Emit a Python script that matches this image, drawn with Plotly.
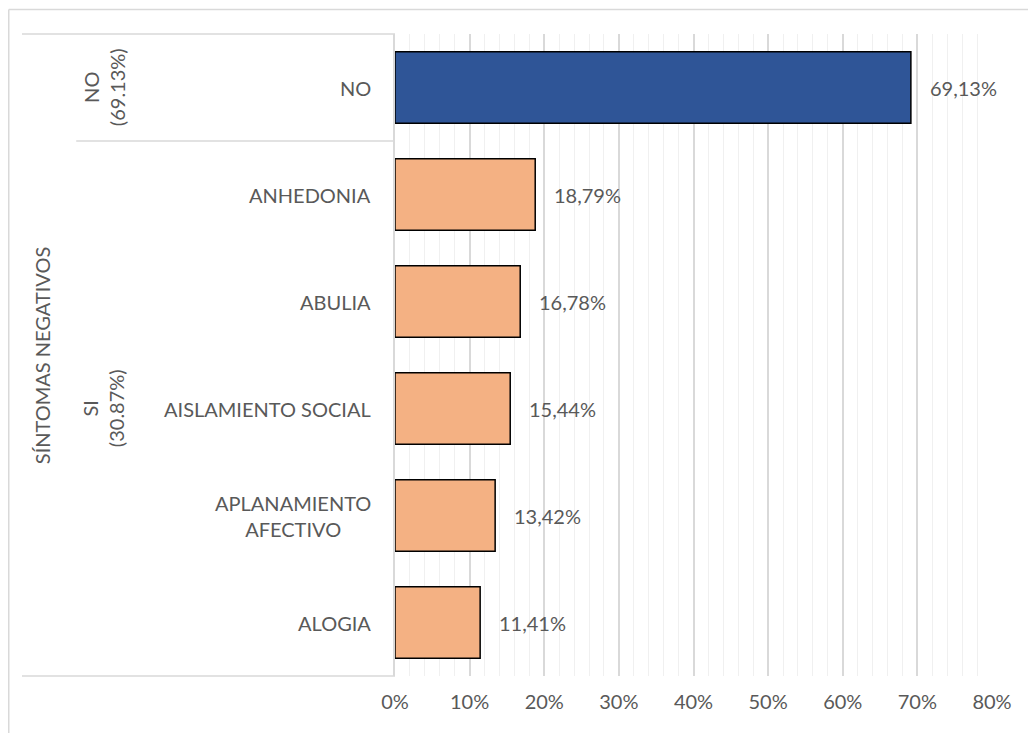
import plotly.graph_objects as go

categorias = ["NO", "ANHEDONIA", "ABULIA", "AISLAMIENTO SOCIAL", "APLANAMIENTO<br>AFECTIVO", "ALOGIA"]
valores = [0.6913, 0.1879, 0.1678, 0.1544, 0.1342, 0.1141]
grupos = ["NO<br>(69.13%)", "SI<br>(30.87%)"]
colores = ["#2F5597", "#F4B183", "#F4B183", "#F4B183", "#F4B183", "#F4B183"]

gris = "#595959"
fuente = "Lato"
tam = 20

fig = go.Figure()
fig.add_trace(go.Bar(
    x=valores,
    y=categorias,
    orientation="h",
    marker=dict(color=colores, line=dict(color="black", width=1.5)),
    width=0.67,
    hoverinfo="x+y",
))

# etiquetas de datos con coma decimal
for cat, v in zip(categorias, valores):
    fig.add_annotation(
        x=v, y=cat, xref="x", yref="y",
        text=f"{v*100:.2f}%".replace(".", ","),
        showarrow=False, xanchor="left", xshift=17,
        font=dict(size=tam, color=gris, family=fuente),
    )
    # etiqueta de categoria
    fig.add_annotation(
        x=0, y=cat, xref="paper", yref="y",
        text=cat, showarrow=False, xanchor="right", xshift=-22,
        align="center", font=dict(size=tam, color=gris, family=fuente),
    )

# etiquetas de grupo (rotadas)
for texto, yy in zip(grupos, [11/12, 5/12]):
    fig.add_annotation(x=-0.488, y=yy, xref="paper", yref="paper", text=texto,
                       showarrow=False, textangle=-90, xanchor="center", yanchor="middle",
                       font=dict(size=tam, color=gris, family=fuente))
fig.add_annotation(x=-0.591, y=0.5, xref="paper", yref="paper", text="SÍNTOMAS NEGATIVOS",
                   showarrow=False, textangle=-90, xanchor="center", yanchor="middle",
                   font=dict(size=tam, color=gris, family=fuente))

# lineas de la tabla de categorias
linea = dict(color="#D9D9D9", width=1.5)
fig.add_shape(type="line", xref="paper", yref="paper", x0=-0.6248, x1=0, y0=1, y1=1, line=linea)
fig.add_shape(type="line", xref="paper", yref="paper", x0=-0.6248, x1=0, y0=0, y1=0, line=linea)
fig.add_shape(type="line", xref="paper", yref="paper", x0=-0.534, x1=0, y0=5/6, y1=5/6, line=linea)
# borde exterior del grafico
fig.add_shape(type="line", xref="paper", yref="paper", x0=-0.647, x1=1.1, y0=1.038, y1=1.038,
              line=dict(color="#D9D9D9", width=1.5))
fig.add_shape(type="line", xref="paper", yref="paper", x0=-0.647, x1=-0.647, y0=1.038, y1=-0.1,
              line=dict(color="#D9D9D9", width=1.5))

fig.update_xaxes(
    range=[0, 0.8], dtick=0.1, tickformat=".0%",
    showgrid=True, gridcolor="#D9D9D9", gridwidth=1.5,
    minor=dict(dtick=0.02, showgrid=True, gridcolor="#F0F0F0", gridwidth=1),
    zeroline=False, showline=False, ticks="",
    ticklabelstandoff=12,
    tickfont=dict(size=tam, color=gris, family=fuente),
)
fig.update_yaxes(
    categoryorder="array", categoryarray=categorias, autorange="reversed",
    showticklabels=False, showgrid=False, zeroline=False,
    showline=True, linecolor="#D9D9D9", linewidth=1.5, ticks="",
)
fig.update_layout(
    width=1028, height=725,
    margin=dict(l=387, r=44, t=26, b=57),
    plot_bgcolor="white", paper_bgcolor="white",
    showlegend=False, bargap=0.33,
)

fig.write_html("out.html")
